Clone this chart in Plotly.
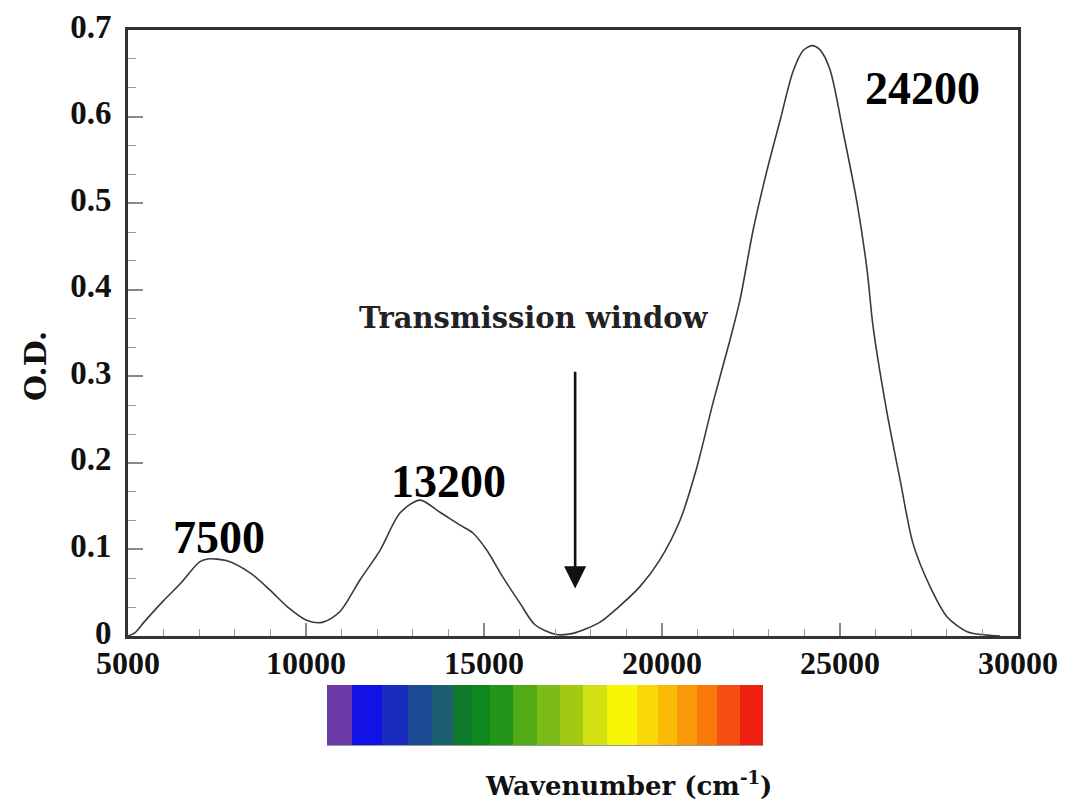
import plotly.graph_objects as go

# Absorption spectrum: wavenumber (cm^-1) vs optical density
wavenumber = [5000, 5200, 5450, 5980, 6460, 7020, 7250, 7780, 8430, 8990, 9470,
              10030, 10480, 10950, 11520, 12080, 12640, 13200, 13760, 14330, 14690,
              15080, 15530, 16010, 16430, 17000, 17500, 18260, 18740, 19380, 19940,
              20510, 20980, 21430, 21910, 22190, 22560, 22950, 23320, 23680, 23960,
              24210, 24440, 24720, 25080, 25480, 25760, 25930, 26320, 26690, 27050,
              27530, 28010, 28570, 29130, 29500]
od = [0.000, 0.004, 0.016, 0.040, 0.060, 0.086, 0.089, 0.087, 0.073, 0.053, 0.034,
      0.018, 0.016, 0.028, 0.065, 0.099, 0.142, 0.157, 0.143, 0.128, 0.119,
      0.099, 0.068, 0.038, 0.013, 0.002, 0.003, 0.016, 0.032, 0.057, 0.088,
      0.134, 0.195, 0.269, 0.342, 0.388, 0.469, 0.538, 0.596, 0.652, 0.676,
      0.682, 0.677, 0.654, 0.584, 0.500, 0.423, 0.357, 0.258, 0.180, 0.107,
      0.057, 0.022, 0.005, 0.001, 0.000]

x_ticks = [5000, 10000, 15000, 20000, 25000, 30000]
y_ticks = [0, 0.1, 0.2, 0.3, 0.4, 0.5, 0.6, 0.7]
y_tick_text = ["0", "0.1", "0.2", "0.3", "0.4", "0.5", "0.6", "0.7"]

# Peak labels
peak_labels = ["7500", "13200", "24200"]
peak_label_x = [7570, 13990, 27330]
peak_label_y = [0.114, 0.179, 0.633]

# Visible-spectrum strip (stripe edges and colours)
strip_edges = [327, 352, 382, 408, 432, 453, 472, 490, 513, 537, 560, 583, 607,
               637, 658, 677, 697, 717, 740, 763]
strip_colors = ["#6b3aa8", "#1212e6", "#1a2cc0", "#1c4a92", "#1b5f70", "#0f7a2a",
                "#10861e", "#22941a", "#52aa14", "#7cbc16", "#a2ca12", "#d2e014",
                "#f6f606", "#f8d806", "#f8ba06", "#f89a08", "#f87808", "#f64e10",
                "#f02010"]

serif = "Liberation Serif, Times New Roman, serif"
book = "DejaVu Serif, serif"

fig = go.Figure()

fig.add_trace(go.Scatter(
    x=wavenumber, y=od, mode="lines",
    line=dict(color="#3a3a3a", width=1.6, shape="spline", smoothing=0.8),
    showlegend=False, hoverinfo="skip",
))

n = len(strip_colors)
cscale = []
for i, c in enumerate(strip_colors):
    cscale.append([i / n, c])
    cscale.append([(i + 1) / n, c])
fig.add_trace(go.Heatmap(
    z=[list(range(n))], x=strip_edges, y=[0, 1],
    colorscale=cscale, zmin=-0.5, zmax=n - 0.5, showscale=False,
    xaxis="x2", yaxis="y2", hoverinfo="skip",
))

H = 720.0  # paper height in px (top margin 30, bottom margin 56)
main_bottom = (750 - 636) / H

fig.update_layout(
    width=1071, height=806,
    margin=dict(l=128, r=53, t=30, b=56),
    plot_bgcolor="white", paper_bgcolor="white",
    showlegend=False,
    xaxis=dict(
        range=[5000, 30000], domain=[0, 1], anchor="y", automargin=False,
        tickvals=x_ticks, ticktext=[str(v) for v in x_ticks],
        ticks="inside", ticklen=13, tickwidth=1.5, tickcolor="#888",
        minor=dict(dtick=1000, ticks="inside", ticklen=7, tickcolor="#999", tickwidth=1),
        showline=True, linecolor="#333", linewidth=3, mirror=True,
        showgrid=False, zeroline=False,
        tickfont=dict(family=serif, size=32, color="#111", weight="bold"),
        ticklabelstandoff=-3,
    ),
    yaxis=dict(
        range=[0, 0.7], domain=[main_bottom, 1], anchor="x", automargin=False,
        tickvals=y_ticks, ticktext=y_tick_text,
        ticks="inside", ticklen=15, tickwidth=1.5, tickcolor="#888",
        minor=dict(tickvals=[i / 30 for i in range(1, 21) if i % 3], ticks="inside",
                   ticklen=8, tickcolor="#999", tickwidth=1),
        showline=True, linecolor="#333", linewidth=3, mirror=True,
        showgrid=False, zeroline=False,
        tickfont=dict(family=serif, size=33, color="#111", weight="bold"),
        ticklabelstandoff=7, ticklabelshift=-4,
    ),
    xaxis2=dict(
        range=[327, 763], domain=[(327 - 128) / 890, (763 - 128) / 890], anchor="y2",
        automargin=False,
        showticklabels=False, showgrid=False, zeroline=False,
        showline=True, linecolor="#999", linewidth=1,
        tickvals=[327.5, 762.5], ticks="inside", ticklen=10, tickcolor="#444", tickwidth=1.5,
    ),
    yaxis2=dict(
        range=[0, 1], domain=[(750 - 745) / H, (750 - 685) / H], anchor="x2",
        automargin=False,
        showticklabels=False, showgrid=False, zeroline=False, showline=False,
    ),
)

# Peak position labels
for t, x, y in zip(peak_labels, peak_label_x, peak_label_y):
    fig.add_annotation(x=x, y=y, xref="x", yref="y", text=t, showarrow=False,
                       xanchor="center", yanchor="middle",
                       font=dict(family=serif, size=46, color="black", weight="bold"))

fig.add_annotation(x=16400, y=0.367, xref="x", yref="y", text="Transmission window",
                   showarrow=False, xanchor="center", yanchor="middle",
                   font=dict(family=book, size=29, color="#222", weight="bold"))

# Arrow marking the transmission window
fig.add_annotation(x=17560, y=0.055, ax=17560, ay=0.307, xref="x", yref="y",
                   axref="x", ayref="y", text="", showarrow=True,
                   arrowhead=2, arrowsize=1.7, arrowwidth=2.6, arrowcolor="#111")

# Axis titles (positions given in pixels, converted to paper units)
def px_to_paper(px, py):
    return (px - 128) / 890.0, (750 - py) / H

ox, oy = px_to_paper(35, 366)
fig.add_annotation(x=ox, y=oy, xref="paper", yref="paper", text="O.D.",
                   showarrow=False, textangle=-90, xanchor="center", yanchor="middle",
                   font=dict(family=book, size=30, color="#111", weight="bold"))
wx, wy = px_to_paper(628, 784)
fig.add_annotation(x=wx, y=wy, xref="paper", yref="paper",
                   text="Wavenumber (cm<sup>-1</sup>)", showarrow=False,
                   xanchor="center", yanchor="middle",
                   font=dict(family=book, size=26, color="#111", weight="bold"))

fig.write_html("out.html")
